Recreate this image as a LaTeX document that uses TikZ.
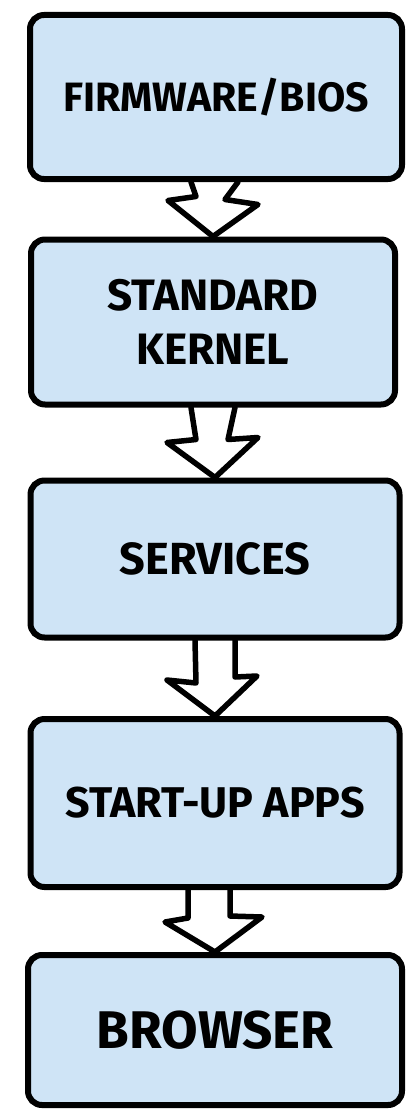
\documentclass[tikz,border=0pt]{standalone}
\usepackage{fontspec}
\setmainfont{Fira Sans}
\usetikzlibrary{calc}
\definecolor{wash}{RGB}{207,228,246}
\tikzset{
  box/.style={draw=black, fill=wash, line width=6pt, rounded corners=14pt, align=center, inner sep=0pt},
  blockarrow/.style={draw=black, line width=5.5pt, line join=round, line cap=round},
}
\begin{document}
\begin{tikzpicture}[x=1pt, y=-1pt]
  \useasboundingbox (0,0) rectangle (418,1116);

  % ================= boxes =================
  \node[box, minimum width=372pt, minimum height=164pt, font=\fontsize{41}{48}\selectfont\bfseries] (fw) at (216,97) {FIRMWARE/BIOS};
  \node[box, minimum width=364pt, minimum height=165pt, font=\fontsize{44}{54}\selectfont\bfseries] (kn) at (213,322) {STANDARD\\KERNEL};
  \node[box, minimum width=369pt, minimum height=157pt, font=\fontsize{45}{50}\selectfont\bfseries] (sv) at (215,559) {SERVICES};
  \node[box, minimum width=369pt, minimum height=168pt, font=\fontsize{43}{48}\selectfont\bfseries] (ap) at (215,803) {START-UP APPS};
  \node[box, minimum width=374pt, minimum height=150pt, font=\fontsize{53}{60}\selectfont\bfseries] (br) at (215,1030) {BROWSER};

  % ================= arrows =================
  % zigzag shafts
  \draw[blockarrow] ($(fw.south)+(-25,0)$) -- ($(kn.north)+(-17,-40)$) -- ($(kn.north)+(-45,-36)$) -- (kn.north)
    -- ($(kn.north)+(45,-32)$) -- ($(kn.north)+(12,-37)$) -- ($(fw.south)+(22,0)$);
  \draw[blockarrow] ($(kn.south)+(-22,0)$) -- ($(sv.north)+(-19,-38)$) -- ($(sv.north)+(-48,-35)$) -- (sv.north)
    -- ($(sv.north)+(43,-40)$) -- ($(sv.north)+(13,-38)$) -- ($(kn.south)+(22,0)$);
  % straight shafts
  \draw[blockarrow] ($(sv.south)+(-20,0)$) -- ($(ap.north)+(-19,-33)$) -- ($(ap.north)+(-48,-36)$) -- (ap.north)
    -- ($(ap.north)+(42,-40)$) -- ($(ap.north)+(20,-39)$) -- ($(sv.south)+(20,0)$);
  \draw[blockarrow] ($(ap.south)+(-27,0)$) -- ($(br.north)+(-27,-34)$) -- ($(br.north)+(-50,-30)$) -- (br.north)
    -- ($(br.north)+(47,-35)$) -- ($(br.north)+(15,-36)$) -- ($(ap.south)+(15,0)$);
\end{tikzpicture}
\end{document}
